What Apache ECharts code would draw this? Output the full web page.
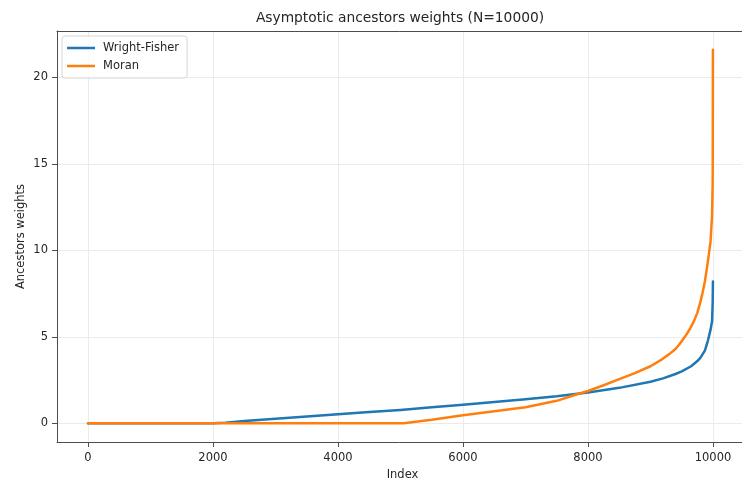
<!DOCTYPE html>
<html>
<head>
<meta charset="utf-8">
<script src="https://cdn.jsdelivr.net/npm/echarts@6/dist/echarts.min.js"></script>
<style>
  html, body { margin: 0; padding: 0; background: #ffffff; overflow: hidden; }
  #chart { width: 742px; height: 486px; }
</style>
</head>
<body>
<div id="chart"></div>
<script>
// Sorted asymptotic ancestor weights, sampled along the index
const wfIndex = [0, 2000, 2200, 2500, 3000, 3500, 4000, 4500, 5000, 5500, 6000, 6500, 7000, 7500, 8000, 8500, 9000, 9200, 9400, 9500, 9650, 9750, 9800, 9870, 9920, 9960, 9985, 9995, 9999];
const wfWeight = [0, 0, 0.04, 0.13, 0.27, 0.40, 0.53, 0.65, 0.77, 0.93, 1.08, 1.23, 1.39, 1.56, 1.78, 2.05, 2.4, 2.6, 2.85, 3.0, 3.3, 3.6, 3.8, 4.2, 4.8, 5.4, 5.9, 7.0, 8.2];

const moranIndex = [0, 5000, 5050, 5500, 6000, 6500, 7000, 7500, 7800, 8000, 8250, 8500, 8750, 9000, 9150, 9300, 9400, 9470, 9550, 9630, 9700, 9750, 9790, 9830, 9870, 9920, 9960, 9985, 9995, 9999];
const moranWeight = [0, 0, 0, 0.2, 0.47, 0.7, 0.93, 1.3, 1.65, 1.87, 2.2, 2.55, 2.9, 3.3, 3.62, 4.0, 4.3, 4.6, 5.0, 5.45, 5.95, 6.4, 6.9, 7.5, 8.2, 9.4, 10.5, 12, 14, 21.6];

const xTicks = [0, 2000, 4000, 6000, 8000, 10000];
const yTicks = [0, 5, 10, 15, 20];

const seriesNames = ['Wright-Fisher', 'Moran'];
const titleText = 'Asymptotic ancestors weights (N=10000)';

const pairs = (xs, ys) => xs.map((x, i) => [x, ys[i]]);

const FONT = 'DejaVu Sans';
const TEXT = '#262626';
const SPINE = '#4d4d4d';
const GRID = '#ebebeb';
const X_MIN = -496, X_MAX = 10560;

const chart = echarts.init(document.getElementById('chart'), null, { renderer: 'canvas' });

chart.setOption({
  animation: false,
  backgroundColor: '#ffffff',
  textStyle: { fontFamily: FONT },
  graphic: [
    {
      type: 'text', x: 400, y: 18, z: 10,
      style: { text: titleText, fontFamily: FONT, fontSize: 13.8, fill: TEXT, align: 'center', verticalAlign: 'middle' }
    }
  ],
  grid: {
    left: 57, right: -6, top: 31, bottom: 44,
    outerBoundsMode: 'none', containLabel: false,
    show: false
  },
  legend: {
    orient: 'vertical',
    left: 62, top: 36,
    data: seriesNames,
    icon: 'rect',
    itemWidth: 28, itemHeight: 2.5,
    itemGap: 6,
    padding: [6, 8, 6, 5],
    backgroundColor: 'rgba(255,255,255,0.8)',
    borderColor: '#d6d6d6', borderWidth: 1, borderRadius: 3,
    textStyle: { fontFamily: FONT, fontSize: 11.5, color: TEXT, padding: [0, 0, 0, 3] }
  },
  xAxis: [
    {
      type: 'value', position: 'bottom',
      min: X_MIN, max: X_MAX,
      name: 'Index', nameLocation: 'middle', nameGap: 27, nameMoveOverlap: false,
      nameTextStyle: { fontFamily: FONT, fontSize: 11.5, color: TEXT },
      axisLine: { show: true, onZero: false, lineStyle: { color: SPINE, width: 1 } },
      axisTick: { show: true, length: 5, inside: false, customValues: xTicks, lineStyle: { color: SPINE } },
      axisLabel: { customValues: xTicks, formatter: v => String(v), fontFamily: FONT, fontSize: 11.5, color: TEXT, margin: 10, hideOverlap: false },
      splitLine: { show: true, lineStyle: { color: GRID, width: 1 } }
    },
    {
      // top spine of the frame
      type: 'value', position: 'top',
      min: X_MIN, max: X_MAX,
      axisLine: { show: true, onZero: false, lineStyle: { color: SPINE, width: 1 } },
      axisTick: { show: false },
      axisLabel: { show: false },
      splitLine: { show: false }
    }
  ],
  yAxis: {
    type: 'value',
    min: -1.08, max: 22.68,
    name: 'Ancestors weights', nameLocation: 'middle', nameGap: 30, nameMoveOverlap: false,
    nameTextStyle: { fontFamily: FONT, fontSize: 11.5, color: TEXT },
    axisLine: { show: true, onZero: false, lineStyle: { color: SPINE, width: 1 } },
    axisTick: { show: true, length: 5, inside: false, customValues: yTicks, lineStyle: { color: SPINE } },
    axisLabel: { customValues: yTicks, formatter: v => String(v), fontFamily: FONT, fontSize: 11.5, color: TEXT, margin: 9 },
    splitLine: { show: true, lineStyle: { color: GRID, width: 1 } }
  },
  series: [
    {
      name: seriesNames[0], type: 'line', data: pairs(wfIndex, wfWeight),
      xAxisIndex: 0,
      showSymbol: false, symbol: 'none', smooth: false,
      itemStyle: { color: '#1f77b4' },
      lineStyle: { color: '#1f77b4', width: 2.5, cap: 'round', join: 'round' },
      z: 3
    },
    {
      name: seriesNames[1], type: 'line', data: pairs(moranIndex, moranWeight),
      xAxisIndex: 0,
      showSymbol: false, symbol: 'none', smooth: false,
      itemStyle: { color: '#ff7f0e' },
      lineStyle: { color: '#ff7f0e', width: 2.5, cap: 'round', join: 'round' },
      z: 4
    }
  ]
});
</script>
</body>
</html>
